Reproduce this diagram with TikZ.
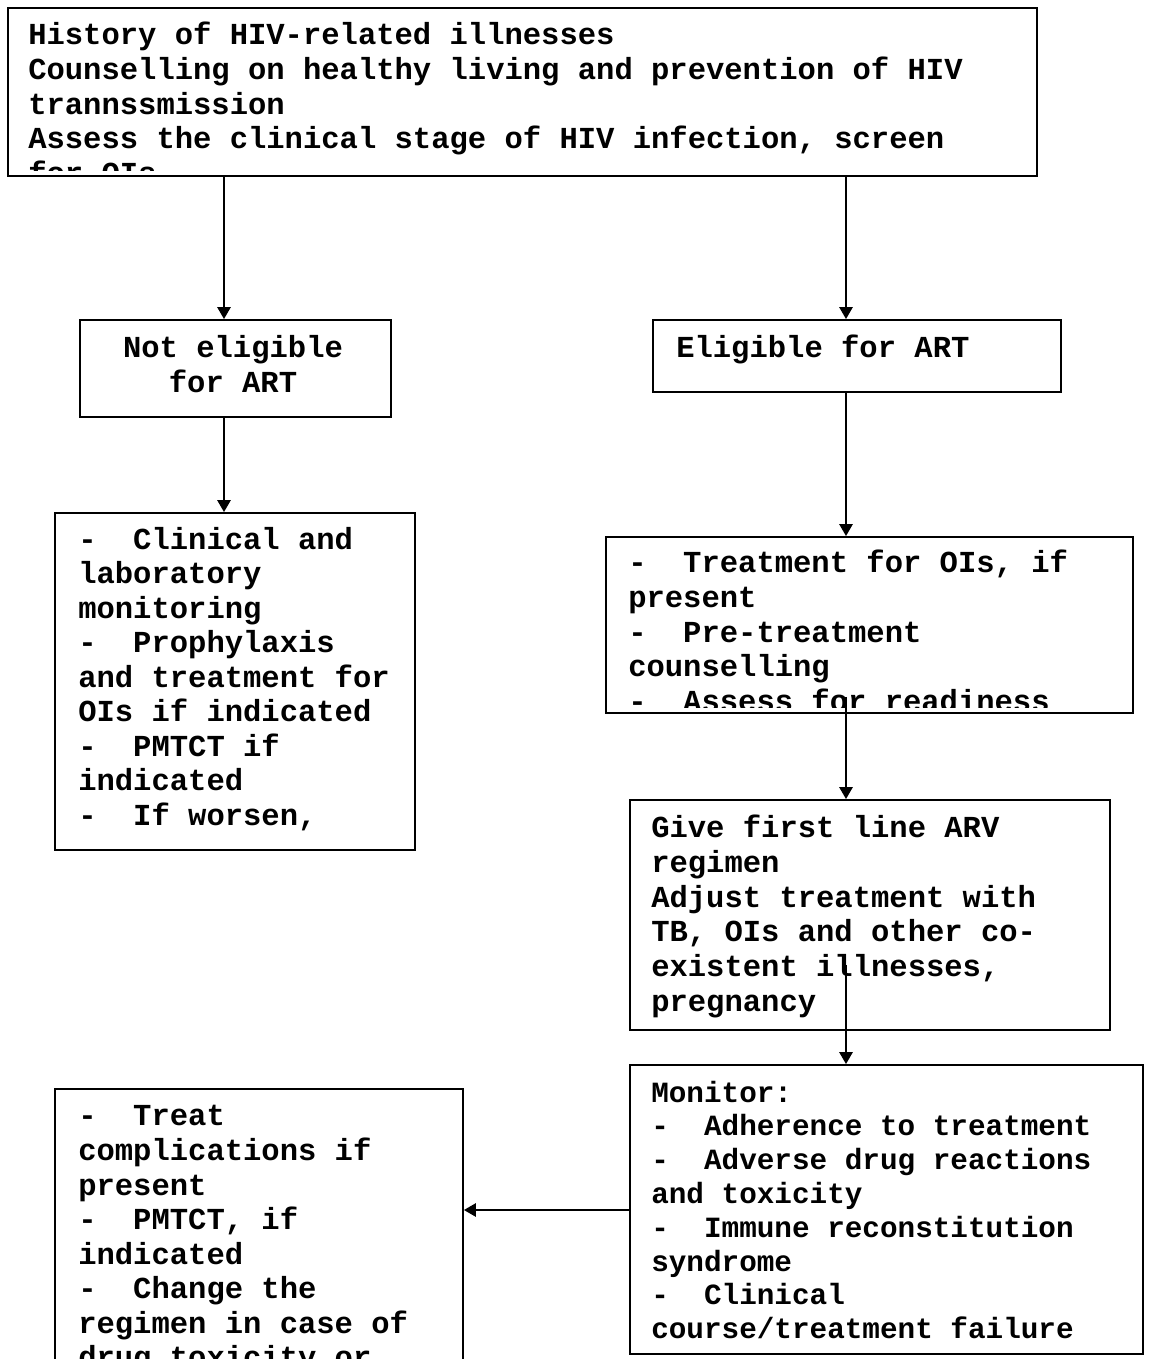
\documentclass[tikz,border=0pt]{standalone}
\usepackage{fontspec}
\newfontfamily\cf{Liberation Mono}
\usetikzlibrary{arrows.meta,fit}
\begin{document}
\begin{tikzpicture}[x=0.75pt,y=-0.75pt,
  boxst/.style={draw, line width=1.4pt, inner sep=0pt},
  % multi-line nodes: the anchor 'base' lies on the baseline of the LAST line
  txt/.style={inner sep=0pt, anchor=base west, align=left,
    font=\cf\bfseries\fontsize{22.9pt}{25.9pt}\selectfont},
  txtc/.style={inner sep=0pt, anchor=base, align=center,
    font=\cf\bfseries\fontsize{22.9pt}{25.9pt}\selectfont},
  arr/.style={line width=1.4pt, -{Triangle[length=9pt,width=10pt]}}]
\path[use as bounding box] (0,0) rectangle (1157,1359);
\fill[white] (0,0) rectangle (1157,1359);
\clip (0,0) rectangle (1157,1359);

% boxes
\node[boxst, fit={(8,8)(1037,176)}] (top) {};
\node[boxst, fit={(80,320)(391,417)}] (notel) {};
\node[boxst, fit={(653,320)(1061,392)}] (elig) {};
\node[boxst, fit={(55,513)(415,850)}] (llist) {};
\node[boxst, fit={(606,537)(1133,713)}] (rlist) {};
\node[boxst, fit={(630,800)(1110,1030)}] (give) {};
\node[boxst, fit={(630,1065)(1143,1354)}] (mon) {};
\node[boxst, fit={(55,1089)(463,1380)}] (compl) {};

% texts
\begin{scope}
\clip (top.north west) rectangle ([yshift=4.5pt]top.south east);
\node[txt] (ttop) at (28,183.1) {History of HIV-related illnesses\\Counselling on healthy living and prevention of HIV\\trannssmission\\Assess the clinical stage of HIV infection, screen\\for OIs};
\end{scope}
\node[txtc] (tnotel) at (233,392) {Not eligible\\for ART};
\node[txt] (telig) at (676,357) {Eligible for ART};
\node[txt] (tllist) at (78,825.3) {-~~Clinical and\\laboratory\\monitoring\\-~~Prophylaxis\\and treatment for\\OIs if indicated\\-~~PMTCT if\\indicated\\-~~If worsen,};
\begin{scope}
\clip (rlist.north west) rectangle ([yshift=4.5pt]rlist.south east);
\node[txt] (trlist) at (628,711.1) {-~~Treatment for OIs, if\\present\\-~~Pre-treatment\\counselling\\-~~Assess for readiness};
\end{scope}
\node[txt, font=\cf\bfseries\fontsize{22.9pt}{26pt}\selectfont] (tgive) at (651,1011.3) {Give first line ARV\\regimen\\Adjust treatment with\\TB, OIs and other co-\\existent illnesses,\\pregnancy};
\node[txt, font=\cf\bfseries\fontsize{22pt}{25.35pt}\selectfont] (tmon) at (651,1338.6) {Monitor:\\-~~Adherence to treatment\\-~~Adverse drug reactions\\and toxicity\\-~~Immune reconstitution\\syndrome\\-~~Clinical\\course/treatment failure};
\node[txt] (tcompl) at (78,1367.7) {-~~Treat\\complications if\\present\\-~~PMTCT, if\\indicated\\-~~Change the\\regimen in case of\\drug toxicity or};

% connectors
\coordinate (a1) at (224,176);
\coordinate (a2) at (846,176);
\coordinate (a3) at (224,417);
\coordinate (a4) at (846,392);
\coordinate (a5) at (846,697);
\coordinate (a6) at (846,965);
\coordinate (a7) at (630,1210);
\draw[arr] (a1) -- (a1 |- notel.north);
\draw[arr] (a2) -- (a2 |- elig.north);
\draw[arr] (a3) -- (a3 |- llist.north);
\draw[arr] (a4) -- (a4 |- rlist.north);
\draw[arr] (a5) -- (a5 |- give.north);
\draw[arr] (a6) -- (a6 |- mon.north);
\draw[arr] (a7) -- (a7 -| compl.east);
\end{tikzpicture}
\end{document}
